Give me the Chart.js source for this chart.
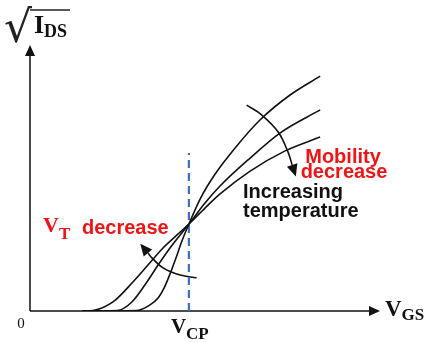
<!DOCTYPE html>
<html>
<head>
<meta charset="utf-8">
<script src="https://cdn.jsdelivr.net/npm/chart.js@4/dist/chart.umd.min.js"></script>
<style>
  html, body { margin: 0; padding: 0; background: #fff; }
  canvas { display: block; }
</style>
</head>
<body>
<canvas id="c" width="425" height="343"></canvas>
<script>
// sqrt(I_DS) vs V_GS transfer curves at three temperatures (schematic units 0..10)
// Coldest: highest V_T, highest mobility (steepest above V_CP)
const coldX = [1.5, 3.06, 3.43, 3.66, 3.83, 4.00, 4.17, 4.34, 4.54, 4.86, 5.29, 5.86, 6.57, 7.43, 8.29];
const coldY = [0, 0.02, 0.23, 0.49, 0.86, 1.39, 1.99, 2.63, 3.27, 4.21, 5.15, 6.13, 7.18, 8.12, 8.83];
// Intermediate temperature
const midX = [1.5, 2.49, 2.91, 3.34, 3.66, 4.00, 4.29, 4.54, 5.00, 5.43, 6.29, 7.14, 8.29];
const midY = [0, 0.02, 0.34, 1.09, 1.73, 2.37, 2.86, 3.27, 4.06, 4.70, 5.75, 6.69, 7.56];
// Hottest: lowest V_T, lowest mobility
const hotX = [1.5, 1.80, 2.37, 2.94, 3.37, 3.80, 4.20, 4.54, 5.00, 5.43, 6.29, 7.29, 8.29];
const hotY = [0, 0.02, 0.34, 1.09, 1.73, 2.37, 2.86, 3.27, 3.87, 4.40, 5.26, 6.02, 6.54];

// Crossing point (zero temperature coefficient) and its marker line
const vcp = 4.54;
const vcpLineY = [0, 5.94];

// Curved arrows: V_T shift (below V_CP) and mobility drop (above V_CP)
const vtArrowX = [4.76, 4.29, 3.80, 3.49, 3.37];
const vtArrowY = [1.25, 1.35, 1.62, 1.99, 2.18];
const muArrowX = [6.19, 6.62, 7.09, 7.37, 7.49];
const muArrowY = [7.74, 7.37, 6.73, 5.98, 5.49];

const pts = (xs, ys) => xs.map((x, i) => ({ x, y: ys[i] }));

const curveStyle = { borderColor: '#111', borderWidth: 1.6, pointRadius: 0, cubicInterpolationMode: 'monotone', fill: false };
const arrowStyle = { borderColor: '#111', borderWidth: 1.6, pointRadius: 0, tension: 0.4, fill: false, isArrow: true };

const serif = '"Liberation Serif", "DejaVu Serif", serif';
const sans = '"Liberation Sans", Arial, sans-serif';
const red = '#f01414';

function drawSubscripted(ctx, main, sub, x, y, mainPx, subPx, drop, color) {
  ctx.fillStyle = color;
  ctx.textBaseline = 'alphabetic';
  ctx.textAlign = 'left';
  ctx.font = `bold ${mainPx}px ${serif}`;
  ctx.fillText(main, x, y);
  const w = ctx.measureText(main).width;
  ctx.font = `bold ${subPx}px ${serif}`;
  ctx.fillText(sub, x + w, y + drop);
}

const decor = {
  id: 'decor',
  beforeDatasetsDraw(chart) {
    const { ctx, scales: { x, y } } = chart;
    const ox = x.getPixelForValue(0), oy = y.getPixelForValue(0);
    const xEnd = x.getPixelForValue(10), yEnd = y.getPixelForValue(10);
    ctx.save();
    ctx.strokeStyle = '#111';
    ctx.fillStyle = '#111';
    ctx.lineWidth = 1.5;
    ctx.beginPath();
    ctx.moveTo(ox, oy); ctx.lineTo(ox, yEnd + 8);
    ctx.moveTo(ox, oy); ctx.lineTo(xEnd - 8, oy);
    ctx.stroke();
    // arrow heads on the axes
    ctx.beginPath();
    ctx.moveTo(ox, yEnd); ctx.lineTo(ox - 5, yEnd + 11); ctx.lineTo(ox + 5, yEnd + 11); ctx.closePath();
    ctx.fill();
    ctx.beginPath();
    ctx.moveTo(xEnd, oy); ctx.lineTo(xEnd - 11, oy - 5); ctx.lineTo(xEnd - 11, oy + 5); ctx.closePath();
    ctx.fill();
    ctx.restore();
  },
  afterDatasetsDraw(chart) {
    const { ctx, scales: { x, y } } = chart;
    ctx.save();
    // arrow heads on the annotation arrows
    chart.data.datasets.forEach((ds, i) => {
      if (!ds.isArrow) return;
      const p = chart.getDatasetMeta(i).data;
      const a = p[p.length - 2], b = p[p.length - 1];
      const ang = Math.atan2(b.y - a.y, b.x - a.x);
      const len = 12, hw = 5.5;
      const tx = b.x + Math.cos(ang) * len, ty = b.y + Math.sin(ang) * len;
      const px = -Math.sin(ang) * hw, py = Math.cos(ang) * hw;
      ctx.fillStyle = '#111';
      ctx.beginPath();
      ctx.moveTo(tx, ty); ctx.lineTo(b.x + px, b.y + py); ctx.lineTo(b.x - px, b.y - py); ctx.closePath();
      ctx.fill();
    });

    const ox = x.getPixelForValue(0), oy = y.getPixelForValue(0);

    // axis labels
    ctx.fillStyle = '#111';
    ctx.font = `15px ${serif}`;
    ctx.textAlign = 'center';
    ctx.fillText('0', ox - 9, oy + 17);

    drawSubscripted(ctx, 'V', 'CP', x.getPixelForValue(vcp) - 18, oy + 22, 21, 17, 6, '#111');
    drawSubscripted(ctx, 'V', 'GS', x.getPixelForValue(10) + 5, oy + 5, 23, 17, 4, '#111');

    // sqrt(I_DS) label
    ctx.fillStyle = '#222';
    ctx.font = `44px "DejaVu Sans"`;
    ctx.textAlign = 'left';
    ctx.fillText('\u221A', 4, 42);
    ctx.lineWidth = 1.3;
    ctx.strokeStyle = '#222';
    ctx.beginPath(); ctx.moveTo(30, 10); ctx.lineTo(70, 10); ctx.stroke();
    drawSubscripted(ctx, 'I', 'DS', 34, 33, 26, 18, 4, '#111');

    // annotations
    drawSubscripted(ctx, 'V', 'T', 43, 232, 22, 17, 7, red);
    ctx.font = `bold 20px ${sans}`;
    ctx.fillStyle = red;
    ctx.textAlign = 'left';
    ctx.fillText('decrease', 82, 234);

    ctx.textAlign = 'center';
    ctx.fillText('Mobility', 343, 163);
    ctx.fillText('decrease', 344, 178);

    ctx.fillStyle = '#111';
    ctx.textAlign = 'left';
    ctx.fillText('Increasing', 243, 198);
    ctx.fillText('temperature', 243, 217);
    ctx.restore();
  }
};

new Chart(document.getElementById('c'), {
  type: 'line',
  data: {
    datasets: [
      { ...curveStyle, data: pts(coldX, coldY) },
      { ...curveStyle, data: pts(midX, midY) },
      { ...curveStyle, data: pts(hotX, hotY) },
      { data: pts([vcp, vcp], vcpLineY), borderColor: '#3f6fc0', borderWidth: 2.2, borderDash: [8, 5], pointRadius: 0, fill: false },
      { ...arrowStyle, data: pts(vtArrowX, vtArrowY) },
      { ...arrowStyle, data: pts(muArrowX, muArrowY) }
    ]
  },
  options: {
    responsive: false,
    devicePixelRatio: 1,
    animation: false,
    layout: { padding: { left: 30, right: 45, top: 45, bottom: 32 } },
    scales: {
      x: { type: 'linear', min: 0, max: 10, display: false },
      y: { type: 'linear', min: 0, max: 10, display: false }
    },
    plugins: { legend: { display: false }, tooltip: { enabled: false } }
  },
  plugins: [decor]
});
</script>
</body>
</html>
